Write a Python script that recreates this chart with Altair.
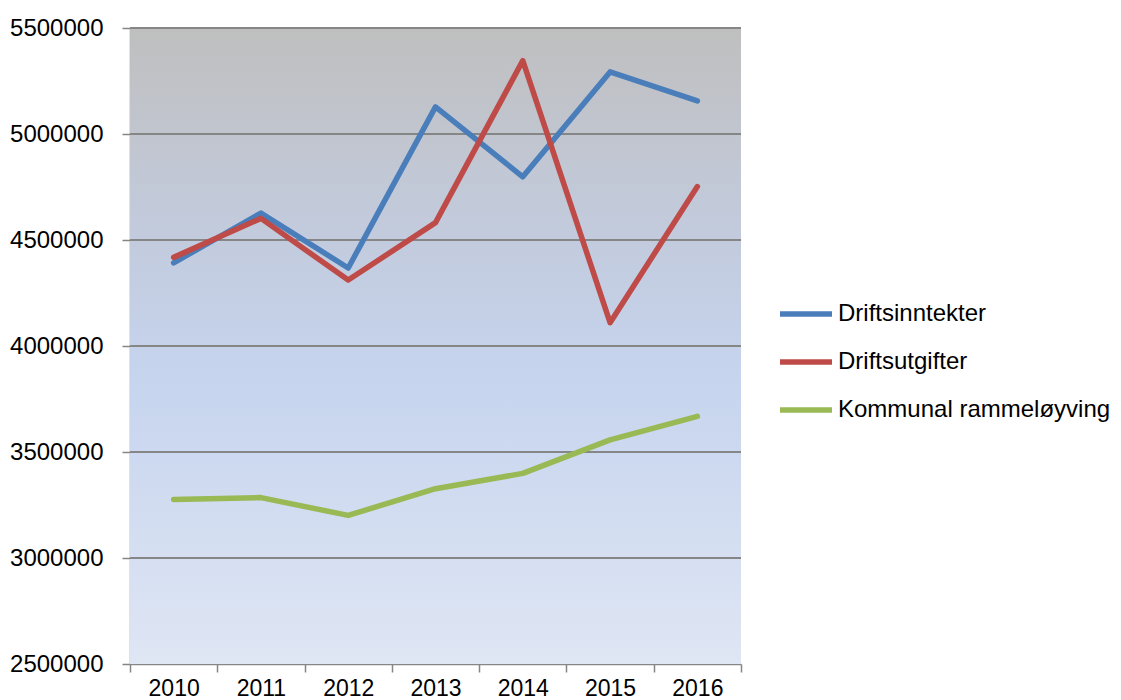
import altair as alt
import pandas as pd

years = ["2010", "2011", "2012", "2013", "2014", "2015", "2016"]
series = ["Driftsinntekter", "Driftsutgifter", "Kommunal rammeløyving"]
driftsinntekter = [4392000, 4627000, 4368000, 5128000, 4798000, 5293000, 5156000]
driftsutgifter = [4418000, 4602000, 4311000, 4582000, 5346000, 4110000, 4752000]
rammeloyving = [3276000, 3285000, 3201000, 3327000, 3399000, 3557000, 3668000]
colors = ["#4a7ebb", "#be4b48", "#98b954"]
y_ticks = [2500000, 3000000, 3500000, 4000000, 4500000, 5000000, 5500000]

rows = []
for name, vals in zip(series, [driftsinntekter, driftsutgifter, rammeloyving]):
    for yr, v in zip(years, vals):
        rows.append({"year": yr, "series": name, "value": v})
df = pd.DataFrame(rows)
grid_df = pd.DataFrame({"value": y_ticks[1:]})

FONT = "Liberation Sans"

y_scale = alt.Scale(domain=[2500000, 5500000], nice=False, zero=False)
y_axis = alt.Axis(
    title=None, values=y_ticks, format="d", grid=False,
    domainColor="#868686",
    domainWidth=1.5, tickColor="#868686", tickWidth=1.5, tickSize=8,
    labelPadding=19, labelFontSize=24, labelFont=FONT,
    labelColor="#000000",
)

x_enc = alt.X(
    "year:O",
    sort=years,
    scale=alt.Scale(type="band", paddingInner=0, paddingOuter=0),
    bandPosition=0.5,
    axis=alt.Axis(
        title=None, tickBand="extent", grid=False, labelAngle=0,
        domainColor="#868686", domainWidth=1.5, tickColor="#868686",
        tickWidth=1.5, tickSize=8, labelPadding=5, labelFontSize=23,
        labelFont=FONT, labelColor="#000000", labelBaseline="top",
    ),
)
y_enc = alt.Y("value:Q", scale=y_scale, axis=y_axis)

bg = alt.Chart(pd.DataFrame({"a": [0]})).mark_rect(
    color=alt.Gradient(
        gradient="linear", x1=0, x2=0, y1=0, y2=1,
        stops=[
            alt.GradientStop(color="#bfbfbf", offset=0),
            alt.GradientStop(color="#c2cadb", offset=0.3),
            alt.GradientStop(color="#c6d4ee", offset=0.55),
            alt.GradientStop(color="#dfe6f4", offset=1),
        ],
    )
).encode(
    x=alt.value(0), x2=alt.value("width"), y=alt.value(0), y2=alt.value("height")
)

grid = alt.Chart(grid_df).mark_rule(color="#868686", strokeWidth=2).encode(
    y=y_enc,
    x=alt.value(0), x2=alt.value("width"),
)

lines = alt.Chart(df).mark_line(strokeWidth=5.5, strokeCap="round", strokeJoin="round").encode(
    x=x_enc,
    y=y_enc,
    color=alt.Color(
        "series:N",
        sort=series,
        scale=alt.Scale(domain=series, range=colors),
        legend=alt.Legend(
            title=None, orient="none", legendX=647, legendY=257,
            symbolType="stroke", symbolSize=2704, symbolStrokeWidth=5.5,
            labelFontSize=24, labelFont=FONT, labelColor="#000000",
            labelOffset=3, rowPadding=7, padding=0, labelLimit=400,
        ),
    ),
)

chart = alt.layer(bg, grid, lines).properties(
    width=611, height=636,
    autosize=alt.AutoSizeParams(type="none"),
    padding={"left": 122, "top": 20, "right": 372, "bottom": 36},
).configure_view(stroke=None)

chart.save("out.html", embed_options={"renderer": "svg", "actions": False})
